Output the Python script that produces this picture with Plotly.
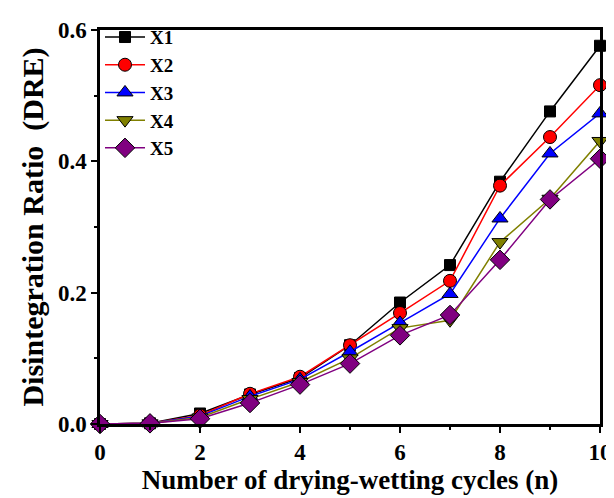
import plotly.graph_objects as go

cycles = [0, 1, 2, 3, 4, 5, 6, 7, 8, 9, 10]
x1 = [0, 0.001, 0.016, 0.045, 0.070, 0.120, 0.185, 0.242, 0.369, 0.476, 0.576]
x2 = [0, 0.001, 0.013, 0.046, 0.072, 0.120, 0.169, 0.218, 0.363, 0.437, 0.516]
x3 = [0, 0.001, 0.012, 0.042, 0.068, 0.110, 0.154, 0.198, 0.313, 0.412, 0.473]
x4 = [0, 0.001, 0.010, 0.038, 0.064, 0.100, 0.146, 0.158, 0.277, 0.343, 0.431]
x5 = [0, 0.001, 0.008, 0.032, 0.060, 0.092, 0.135, 0.166, 0.250, 0.342, 0.404]

series = [
    ("X1", x1, "black", "black", "square", 11),
    ("X2", x2, "red", "red", "circle", 13),
    ("X3", x3, "blue", "blue", "triangle-up", 14),
    ("X4", x4, "#808000", "#808000", "triangle-down", 14),
    ("X5", x5, "#800080", "#800080", "diamond", 15),
]

font = "Liberation Serif, Times New Roman, serif"
fig = go.Figure()
for name, ys, lc, mc, sym, sz in series:
    fig.add_trace(go.Scatter(
        x=cycles, y=ys, name=name, mode="lines+markers",
        line=dict(color=lc, width=1.5),
        marker=dict(symbol=sym, size=sz, color=mc,
                    line=dict(color="black", width=1)),
        cliponaxis=False,
    ))

fig.update_layout(
    width=614, height=498,
    margin=dict(l=92, r=19, t=10, b=82),
    plot_bgcolor="white", paper_bgcolor="white",
    font=dict(family=font, size=22, color="black"),
    showlegend=True,
    legend=dict(x=0.0, y=1.03, xanchor="left", yanchor="top",
                bgcolor="rgba(0,0,0,0)", font=dict(size=19, family=font, weight="bold"),
                itemwidth=40, tracegroupgap=0, borderwidth=0),
)
fig.update_xaxes(
    range=[0, 10], tickmode="array", tickvals=[0, 2, 4, 6, 8, 10],
    ticks="outside", ticklen=6, tickwidth=2, tickcolor="black",
    minor=dict(tickvals=[1, 3, 5, 7, 9], ticks="outside", ticklen=3, tickwidth=2, tickcolor="black"),
    showline=True, linewidth=2.5, linecolor="black", mirror=True,
    showgrid=False, zeroline=False,
    tickfont=dict(size=23, family=font, weight="bold"),
    title=dict(text="Number of drying-wetting cycles (n)",
               font=dict(size=27, family=font, weight="bold"), standoff=5),
)
fig.update_yaxes(
    range=[0, 0.6], tickmode="array", tickvals=[0, 0.2, 0.4, 0.6],
    ticktext=["0.0", "0.2", "0.4", "0.6"],
    ticks="outside", ticklen=6, tickwidth=2, tickcolor="black",
    minor=dict(tickvals=[0.1, 0.3, 0.5], ticks="outside", ticklen=3, tickwidth=2, tickcolor="black"),
    showline=True, linewidth=2.5, linecolor="black", mirror=True,
    showgrid=False, zeroline=False,
    tickfont=dict(size=23, family=font, weight="bold"),
    title=dict(text="Disintegration Ratio\u00a0\u00a0(DRE)",
               font=dict(size=30, family=font, weight="bold"), standoff=6),
)
fig.write_html("out.html")
